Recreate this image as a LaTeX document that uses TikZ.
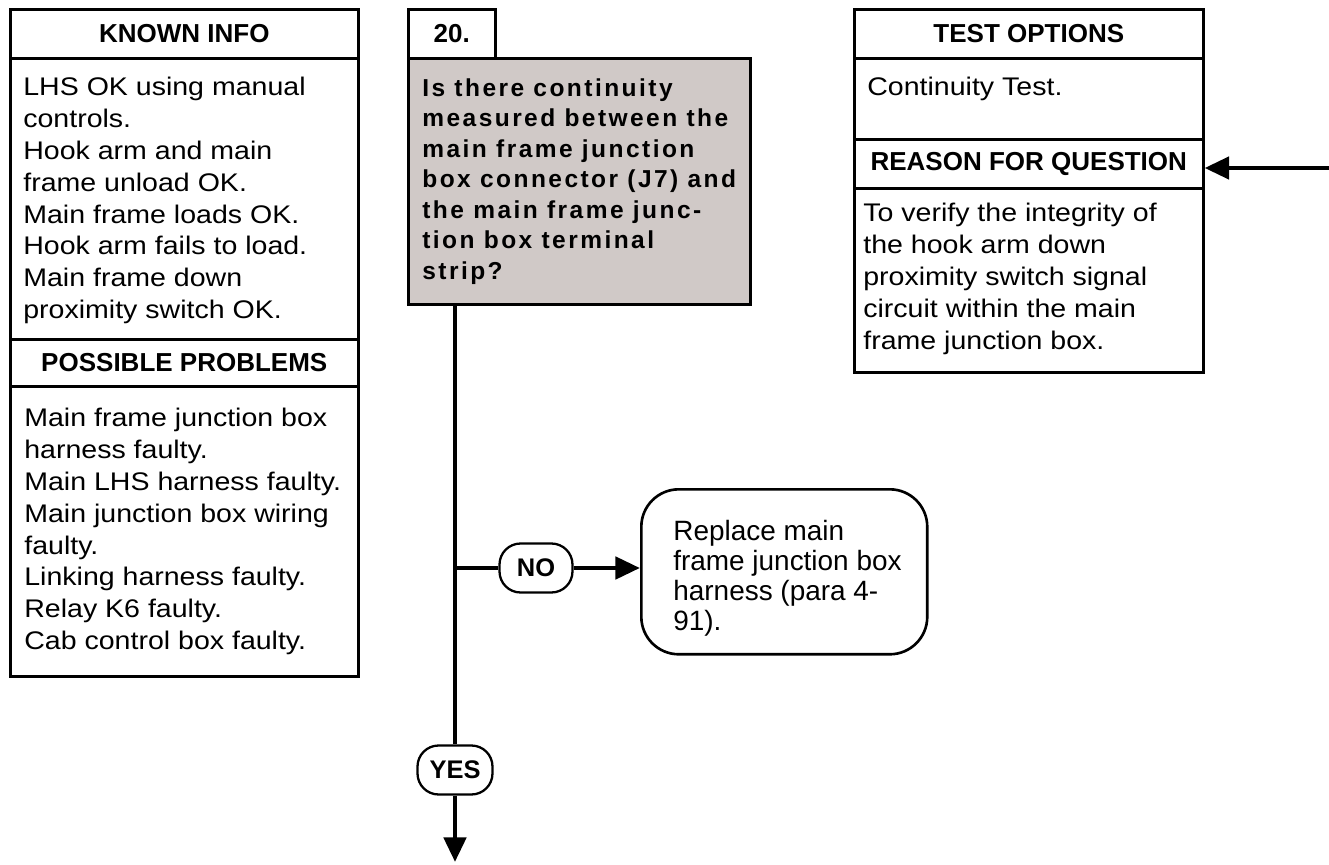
\documentclass[tikz,border=0pt]{standalone}
\usepackage{fontspec}
\usepackage{tikz}
\usetikzlibrary{arrows.meta}
\setmainfont{Liberation Sans}
\newfontfamily\plainfont[FakeStretch=1.12]{Liberation Sans}
\newfontfamily\askfont[LetterSpace=10]{Liberation Sans}
\definecolor{askGray}{RGB}{208, 201, 199}

\begin{document}
\begin{tikzpicture}[x=0.02cm, y=-0.02cm,
    frame/.style={draw, line width=1.5pt, inner sep=0pt, anchor=north west, minimum width=6.96cm},
    headtxt/.style={font=\fontsize{14.8pt}{18pt}\selectfont\bfseries},
    bodytxt/.style={anchor=north west, inner sep=0pt, align=left, font=\plainfont\fontsize{14.5pt}{18.1pt}\selectfont},
    oval/.style={draw, line width=1.3pt, rounded corners=12pt, minimum height=0.98cm, inner sep=0pt, font=\fontsize{14.5pt}{17pt}\selectfont\bfseries},
    flowline/.style={line width=2.8pt},
    tip/.style={-{Triangle[length=14pt, width=12.5pt]}}]
      \useasboundingbox (0,0) rectangle (1329,865);

      % Left column: known info and possible problems
      \node[frame, minimum height=0.98cm, headtxt] (knownhdr) at (9,8) {KNOWN INFO};
      \node[frame, minimum height=5.62cm] (knownbody) at (9,57) {};
      \node[bodytxt] (knowntxt) at (23,77) {LHS OK using manual\\controls.\\Hook arm and main\\frame unload OK.\\Main frame loads OK.\\Hook arm fails to load.\\Main frame down\\proximity switch OK.};
      \node[frame, minimum height=0.94cm, headtxt] (possiblehdr) at (9,338) {POSSIBLE PROBLEMS};
      \node[frame, minimum height=5.8cm] (possiblebody) at (9,385) {};
      \node[bodytxt] (possibletxt) at (24,408) {Main frame junction box\\harness faulty.\\Main LHS harness faulty.\\Main junction box wiring\\faulty.\\Linking harness faulty.\\Relay K6 faulty.\\Cab control box faulty.};

      % Question 20
      \node[frame, minimum width=1.74cm, minimum height=0.98cm, headtxt] (numbox) at (407,8) {20.};
      \node[frame, fill=askGray, minimum width=6.84cm, minimum height=4.92cm] (question) at (407,57) {};
      \node[bodytxt, font=\askfont\bfseries\fontsize{13.95pt}{17.36pt}\selectfont] (questiontxt) at (422,78) {Is there continuity\\measured between the\\main frame junction\\box connector (J7) and\\the main frame junc-\\tion box terminal\\strip?};

      % Right column: test options and reason
      \node[frame, minimum width=6.98cm, minimum height=0.98cm, headtxt] (testhdr) at (853,8) {TEST OPTIONS};
      \node[frame, minimum width=6.98cm, minimum height=1.62cm] (testbody) at (853,57) {};
      \node[bodytxt] (testtxt) at (867,77) {Continuity Test.};
      \node[frame, minimum width=6.98cm, minimum height=0.98cm, headtxt] (reasonhdr) at (853,138) {REASON FOR QUESTION};
      \node[frame, minimum width=6.98cm, minimum height=3.68cm] (reasonbody) at (853,187) {};
      \node[bodytxt] (reasontxt) at (863,203) {To verify the integrity of\\the hook arm down\\proximity switch signal\\circuit within the main\\frame junction box.};

      % Answer boxes
      \node[oval, minimum width=1.46cm] (no) at (536,568) {NO};
      \node[frame, rounded corners=0.75cm, minimum width=5.72cm, minimum height=3.3cm] (replace) at (640,488) {};
      \node[bodytxt, font=\fontsize{15.9pt}{17.1pt}\selectfont] (replacetxt) at (673,520) {Replace main\\frame junction box\\harness (para 4-\\91).};
      \node[oval, minimum width=1.5cm] (yes) at (455,770) {YES};

      \coordinate (nojoin) at (455,568);
      \coordinate (tail) at (455,862);
      \coordinate (entry) at (1329,168);

      % Connectors
      \draw[flowline] (question.south -| yes.north) -- (yes.north);
      \draw[flowline, tip] (yes.south) -- (tail);
      \draw[flowline] (nojoin) -- (no.west);
      \draw[flowline, tip] (no.east) -- (no.east -| replace.west);
      \draw[flowline, tip] (entry) -- (entry -| reasonhdr.east);
    \end{tikzpicture}
\end{document}
